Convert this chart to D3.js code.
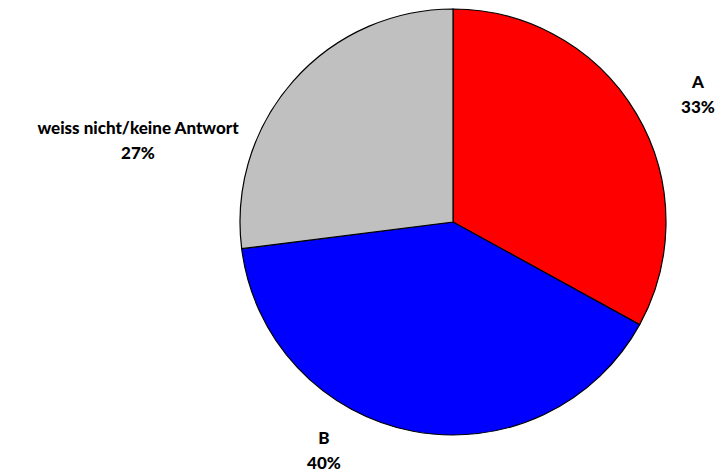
<!DOCTYPE html>
<html>
<head>
<meta charset="utf-8">
<script src="https://cdn.jsdelivr.net/npm/d3@7"></script>
<style>
  body { margin: 0; background: #fff; }
  svg text { font-family: Lato, "Open Sans", sans-serif; font-weight: 900; font-size: 17px; fill: #000; }
</style>
</head>
<body>
<svg id="chart" width="719" height="472"></svg>
<script>
// Answer shares (percent)
const categories = ["A", "B", "weiss nicht/keine Antwort"];
const values = [33, 40, 27];
const colors = ["#ff0000", "#0000ff", "#c0c0c0"];
const labelText = ["33%", "40%", "27%"];

const svg = d3.select("#chart");
const cx = 453, cy = 222, radius = 213;

const pie = d3.pie().sort(null).value(d => d)(values);
const arc = d3.arc().innerRadius(0).outerRadius(radius);

const g = svg.append("g").attr("transform", `translate(${cx},${cy})`);

g.selectAll("path")
  .data(pie)
  .join("path")
  .attr("d", arc)
  .attr("fill", (d, i) => colors[i])
  .attr("stroke", "#000")
  .attr("stroke-width", 1.2);

// Label anchors, placed outside the slices
const labelPos = [
  { x: 698, y: 88 },
  { x: 324, y: 444 },
  { x: 138, y: 134 }
];

categories.forEach((c, i) => {
  const t = svg.append("text")
    .attr("text-anchor", "middle")
    .attr("x", labelPos[i].x)
    .attr("y", labelPos[i].y);
  t.append("tspan").attr("x", labelPos[i].x).attr("dy", 0).text(c);
  t.append("tspan").attr("x", labelPos[i].x).attr("dy", 25).text(labelText[i]);
});
</script>
</body>
</html>
